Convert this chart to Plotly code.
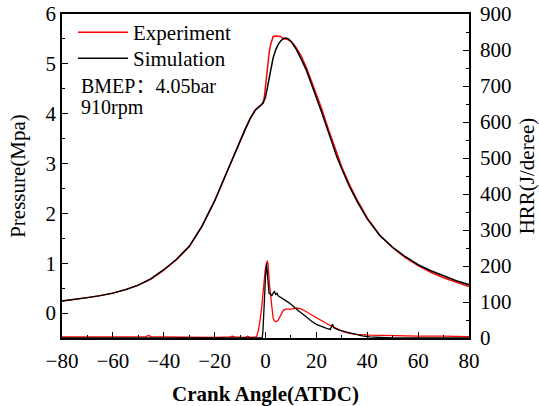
import plotly.graph_objects as go

# ---------------- data ----------------
# Pressure (MPa) - Experiment
ang_p_exp = [-80, -75, -70, -65, -60, -55, -50, -45, -40, -35, -30, -25, -20, -15, -12, -10, -8, -6, -4, -2, -1,
             -0.5, 0, 0.5, 1, 1.5, 2, 2.5, 3, 4, 5, 6, 7, 8, 9, 10, 11, 12, 14, 16, 18, 20, 22, 25, 28, 30, 33,
             36, 40, 45, 50, 55, 60, 65, 70, 75, 80]
p_exp = [0.24, 0.27, 0.31, 0.35, 0.40, 0.47, 0.56, 0.68, 0.86, 1.07, 1.33, 1.74, 2.25, 2.85, 3.22, 3.45, 3.69,
         3.91, 4.08, 4.17, 4.22, 4.32, 4.58, 4.87, 5.08, 5.25, 5.38, 5.48, 5.55, 5.56, 5.56, 5.55, 5.50, 5.50,
         5.48, 5.45, 5.40, 5.33, 5.16, 4.93, 4.66, 4.40, 4.11, 3.65, 3.19, 2.93, 2.58, 2.27, 1.91, 1.56, 1.31,
         1.11, 0.95, 0.82, 0.71, 0.62, 0.53]

# Pressure (MPa) - Simulation
ang_p_sim = [-80, -75, -70, -65, -60, -55, -50, -45, -40, -35, -30, -25, -20, -15, -12, -10, -8, -6, -4, -2, -1,
             0, 1, 2, 3, 4, 5, 6, 7, 8, 9, 10, 11, 12, 14, 16, 18, 20, 22, 25, 28, 30, 33, 36, 40, 45, 50, 55,
             60, 65, 70, 75, 80]
p_sim = [0.24, 0.27, 0.31, 0.35, 0.40, 0.47, 0.56, 0.69, 0.87, 1.08, 1.34, 1.74, 2.25, 2.85, 3.22, 3.45, 3.68,
         3.90, 4.07, 4.16, 4.21, 4.33, 4.62, 4.90, 5.12, 5.28, 5.39, 5.46, 5.51, 5.52, 5.50, 5.45, 5.38, 5.30,
         5.10, 4.88, 4.60, 4.33, 4.04, 3.59, 3.14, 2.89, 2.54, 2.24, 1.89, 1.55, 1.32, 1.13, 0.97, 0.85, 0.75,
         0.65, 0.57]

# Heat release rate (J/degree) - Experiment
ang_h_exp = [-80, -70, -60, -50, -47, -46, -45, -40, -30, -20, -14, -13, -12, -8, -7, -6, -4, -3.5, -3, -2.2,
             -1.5, -0.9, -0.1, 0.7, 1, 1.5, 2, 2.5, 3, 3.5, 4.1, 5, 6, 7, 8, 10, 12.3, 13.5, 15, 18, 20, 22, 25,
             28, 30.5, 33, 36, 41, 45, 53, 60, 70, 80]
hrr_exp = [3, 3, 2, 3, 4, 7, 4, 3, 2, 2, 3, 5, 3, 2, 5, 2, 3, 4, 15, 45, 85, 124, 189, 215, 205, 152, 115, 80,
           55, 47, 45, 50, 64, 77, 80, 80, 83, 82, 77, 65, 56, 47, 36, 26, 18, 13, 10, 8, 7, 6, 5, 5, 4]

# Heat release rate (J/degree) - Simulation
ang_h_sim = [-80, -40, -2, -1.3, -1, -0.5, 0, 0.4, 0.9, 1.4, 2, 2.5, 3, 3.5, 4, 4.5, 5, 6, 7, 8, 9, 10, 11,
             12, 13, 14, 16, 18, 20, 22, 24, 25.5, 26.3, 27, 29, 32, 35, 38, 41, 45, 50, 60, 70, 80]
hrr_sim = [0, 0, 0, 0, 20, 105, 170, 207, 170, 124, 122, 117, 125, 129, 121, 124, 117, 113, 108, 103, 99, 94,
           87, 81, 75, 70, 58, 47, 38, 32, 27, 24, 38, 28, 22, 16, 10, 6, 3, 1, 0, 0, 0, 0]

x_ticks = [-80, -60, -40, -20, 0, 20, 40, 60, 80]

FONT = "Liberation Serif, Times New Roman, serif"
RED = "#ff0000"
BLACK = "#000000"

fig = go.Figure()
fig.add_trace(go.Scatter(x=ang_p_exp, y=p_exp, mode="lines", name="Experiment", legend="legend",
                         line=dict(color=RED, width=1.5), yaxis="y"))
fig.add_trace(go.Scatter(x=ang_p_sim, y=p_sim, mode="lines", name="Simulation", legend="legend2",
                         line=dict(color=BLACK, width=1.5), yaxis="y"))
fig.add_trace(go.Scatter(x=ang_h_exp, y=hrr_exp, mode="lines", name="Experiment HRR", showlegend=False,
                         line=dict(color=RED, width=1.3), yaxis="y2"))
fig.add_trace(go.Scatter(x=ang_h_sim, y=hrr_sim, mode="lines", name="Simulation HRR", showlegend=False,
                         line=dict(color=BLACK, width=1.3), yaxis="y2"))

axis_common = dict(showline=True, linecolor="black", linewidth=1.5, ticks="inside", ticklen=6,
                   tickwidth=1.2, tickcolor="black", showgrid=False, zeroline=False, automargin=False,
                   tickfont=dict(family=FONT, size=21, color="black"))

legend_common = dict(xanchor="left", yanchor="top", bgcolor="rgba(0,0,0,0)",
                     font=dict(family=FONT, size=21, color="black"), itemwidth=50)

fig.update_layout(
    width=539, height=406,
    margin=dict(l=62, r=70, t=14, b=68, autoexpand=False),
    paper_bgcolor="white", plot_bgcolor="white",
    font=dict(family=FONT, size=20, color="black"),
    showlegend=True,
    legend=dict(x=0.027, y=1.006, **legend_common),
    legend2=dict(x=0.027, y=0.926, **legend_common),
    xaxis=dict(range=[-80, 80], tickvals=x_ticks, mirror=True, ticklabelstandoff=3,
               minor=dict(dtick=10, ticks="inside", ticklen=3, tickcolor="black"),
               title=dict(text="<b>Crank Angle(ATDC)</b>", font=dict(family=FONT, size=21), standoff=15),
               **axis_common),
    yaxis=dict(range=[-0.5, 6], dtick=1, tick0=0,
               minor=dict(dtick=0.5, ticks="inside", ticklen=3, tickcolor="black"),
               title=dict(text="Pressure(Mpa)", font=dict(family=FONT, size=21), standoff=14),
               **axis_common),
    yaxis2=dict(range=[0, 900], dtick=100, tick0=0, overlaying="y", side="right", ticklabelstandoff=5,
                minor=dict(dtick=50, ticks="inside", ticklen=3, tickcolor="black"),
                title=dict(text="HRR(J/deree)", font=dict(family=FONT, size=21), standoff=13),
                **axis_common),
    annotations=[
        dict(text="BMEP<span style='font-family:Noto Sans CJK SC'>：</span>4.05bar",
             xref="paper", yref="paper", x=0.042, y=0.781,
             xanchor="left", yanchor="middle", showarrow=False, font=dict(family=FONT, size=20)),
        dict(text="910rpm", xref="paper", yref="paper", x=0.042, y=0.710,
             xanchor="left", yanchor="middle", showarrow=False, font=dict(family=FONT, size=20)),
    ],
)

fig.write_html("out.html")
